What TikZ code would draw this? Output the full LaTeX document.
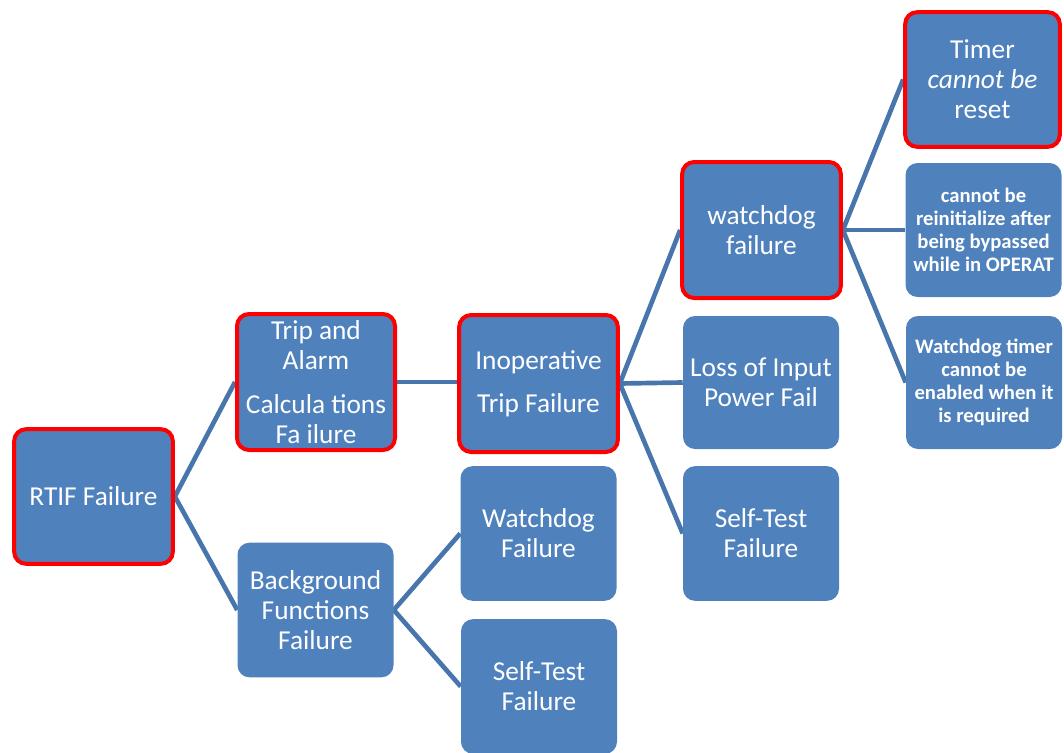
\documentclass[tikz,border=0pt]{standalone}
\usepackage{fontspec}
\setmainfont{Carlito}
\usetikzlibrary{backgrounds}

\definecolor{boxblue}{RGB}{79,129,189}
\definecolor{linkblue}{RGB}{72,118,172}
\definecolor{alertred}{RGB}{255,0,0}

\tikzset{
  box/.style={fill=boxblue, rounded corners=9pt, text=white, align=center,
    inner sep=0pt, minimum width=117pt, minimum height=101pt,
    font=\fontsize{20.5}{22.5}\selectfont},
  flagged/.style={draw=alertred, line width=3pt},
  smalltext/.style={font=\fontsize{15.5}{17.25}\selectfont\bfseries},
  link/.style={draw=linkblue, line width=3.5pt},
}

\begin{document}
\begin{tikzpicture}[x=0.75pt, y=-0.75pt]
  \clip (0,0) rectangle (1064,753);

  % level 0
  \node[box, flagged, minimum width=119pt] (rtif) at (93.5,496.5) {RTIF Failure};

  % level 1
  \node[box, flagged, minimum width=118.5pt, minimum height=102pt] (trip) at (316,382)
    {Trip and\\Alarm\\[10pt]Calcula tions\\Fa ilure};
  \node[box] (bg) at (315.5,610) {Background\\Functions\\Failure};

  % level 2
  \node[box, flagged, minimum width=119pt, minimum height=102.75pt] (inop) at (538.5,383.5)
    {Inoperative\\[10pt]Trip Failure};
  \node[box] (bgwd) at (538.5,533.5) {Watchdog\\Failure};
  \node[box] (bgst) at (539,686.5) {Self-Test\\Failure};

  % level 3
  \node[box, flagged, minimum width=119pt, minimum height=102pt] (wd) at (761.5,230)
    {watchdog\\failure};
  \node[box, minimum height=99.75pt] (loss) at (761,382.5) {Loss of Input\\Power Fail};
  \node[box] (st) at (761,533.5) {Self-Test\\Failure};

  % level 4
  \node[box, flagged, minimum width=116pt] (timer) at (982.5,79.5)
    {Timer\\\textit{cannot be}\\reset};
  \node[box, smalltext, minimum height=100.5pt] (reinit) at (983.5,230)
    {cannot be\\reinitialize after\\being bypassed\\while in OPERAT};
  \node[box, smalltext, minimum height=99.75pt] (enable) at (984,382.5)
    {Watchdog timer\\cannot be\\enabled when it\\is required};

  % connectors behind the boxes
  \begin{pgfonlayer}{background}
    \draw[link] (rtif.east) -- (trip.west);
    \draw[link] (rtif.east) -- (bg.west);
    \draw[link] (trip.east) -- (inop.west |- trip.east);
    \draw[link] (bg.east) -- (bgwd.west);
    \draw[link] (bg.east) -- (bgst.west);
    \draw[link] (inop.east) -- (wd.west);
    \draw[link] (inop.east) -- (loss.west);
    \draw[link] (inop.east) -- (st.west);
    \draw[link] (wd.east) -- (timer.west);
    \draw[link] (wd.east) -- (reinit.west);
    \draw[link] (wd.east) -- (enable.west);
  \end{pgfonlayer}
\end{tikzpicture}
\end{document}
